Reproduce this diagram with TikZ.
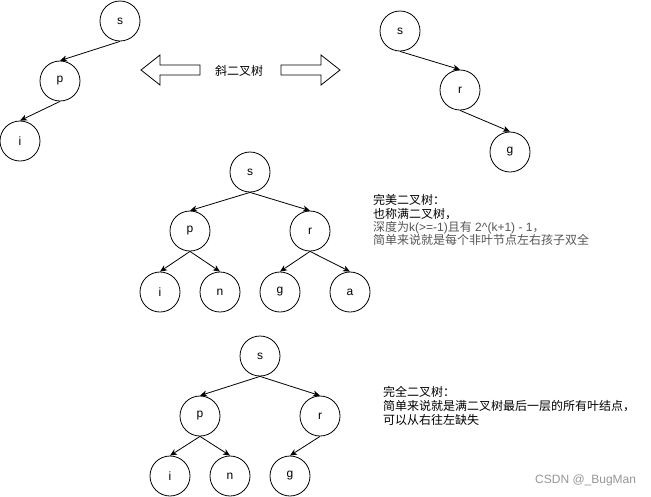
\documentclass[tikz,border=0pt]{standalone}
\usepackage{fontspec}
\setmainfont{Liberation Sans}
\newfontfamily\cjk{Noto Sans CJK SC}
\newfontfamily\lat{Liberation Sans}
\usetikzlibrary{arrows.meta}
\definecolor{txtgray}{RGB}{85,85,85}
\definecolor{wmgray}{RGB}{150,150,150}
\begin{document}
\begin{tikzpicture}[x=1pt,y=-1pt,
  tn/.style={circle,draw,line width=0.8pt,minimum size=40pt,inner sep=0pt,font=\fontsize{12}{14}\selectfont},
  edge/.style={-{Stealth[length=7pt,width=6pt,inset=2pt]},line width=0.8pt},
  blk/.style={draw,line width=0.8pt,fill=white,line join=miter},
  note/.style={anchor=base west,inner sep=0pt,font=\cjk\fontsize{12}{14}\selectfont}]
\useasboundingbox (0,0) rectangle (651,496);
% top-left tree
\node[tn] (a1) at (120,21) {s};
\node[tn] (a2) at (60,81) {p};
\node[tn] (a3) at (20,141) {i};
\draw[edge] (a1.south) -- (a2.north);
\draw[edge] (a2.south) -- (a3.north);
% top-right tree
\node[tn] (b1) at (400,31) {s};
\node[tn] (b2) at (460,90) {r};
\node[tn] (b3) at (510,152) {g};
\draw[edge] (b1.south) -- (b2.north);
\draw[edge] (b2.south) -- (b3.north);
% block arrows and label
\draw[blk] (141,70) -- (160,55) -- (160,65) -- (200,65) -- (200,75) -- (160,75) -- (160,85) -- cycle;
\draw[blk] (340,70) -- (321,55) -- (321,65) -- (281,65) -- (281,75) -- (321,75) -- (321,85) -- cycle;
\node[font=\cjk\fontsize{12}{14}\selectfont,inner sep=0pt] (lbl) at (239,71) {斜二叉树};
% perfect binary tree
\node[tn] (c1) at (250,172) {s};
\node[tn] (c2) at (190,231) {p};
\node[tn] (c3) at (310,231) {r};
\node[tn] (c4) at (160,292) {i};
\node[tn] (c5) at (220,292) {n};
\node[tn] (c6) at (280,292) {g};
\node[tn] (c7) at (350,292) {a};
\draw[edge] (c1.south) -- (c2.north);
\draw[edge] (c1.south) -- (c3.north);
\draw[edge] (c2.south) -- (c4.north);
\draw[edge] (c2.south) -- (c5.north);
\draw[edge] (c3.south) -- (c6.north);
\draw[edge] (c3.south) -- (c7.north);
\node[note] (t1) at (373,204.5) {完美二叉树：};
\node[note] (t2) at (373,218.5) {也称满二叉树，};
\node[note,text=txtgray] (t3) at (373,231.5) {深度为{\lat k(>=-1)}且有{\lat\ 2\^{}(k+1) - 1}，};
\node[note,text=txtgray] (t4) at (373,244.5) {简单来说就是每个非叶节点左右孩子双全};
% complete binary tree
\node[tn] (d1) at (260,356) {s};
\node[tn] (d2) at (200,416) {p};
\node[tn] (d3) at (320,416) {r};
\node[tn] (d4) at (170,476) {i};
\node[tn] (d5) at (230,476) {n};
\node[tn] (d6) at (290,476) {g};
\draw[edge] (d1.south) -- (d2.north);
\draw[edge] (d1.south) -- (d3.north);
\draw[edge] (d2.south) -- (d4.north);
\draw[edge] (d2.south) -- (d5.north);
\draw[edge] (d3.south) -- (d6.north);
\node[note] (u1) at (383,396.5) {完全二叉树：};
\node[note] (u2) at (383,410.5) {简单来说就是满二叉树最后一层的所有叶结点，};
\node[note] (u3) at (383,424.5) {可以从右往左缺失};
% watermark
\node[anchor=base west,inner sep=0pt,text=wmgray,font=\fontsize{12}{14}\selectfont] (wm) at (535,483) {CSDN @\_BugMan};
\end{tikzpicture}
\end{document}
